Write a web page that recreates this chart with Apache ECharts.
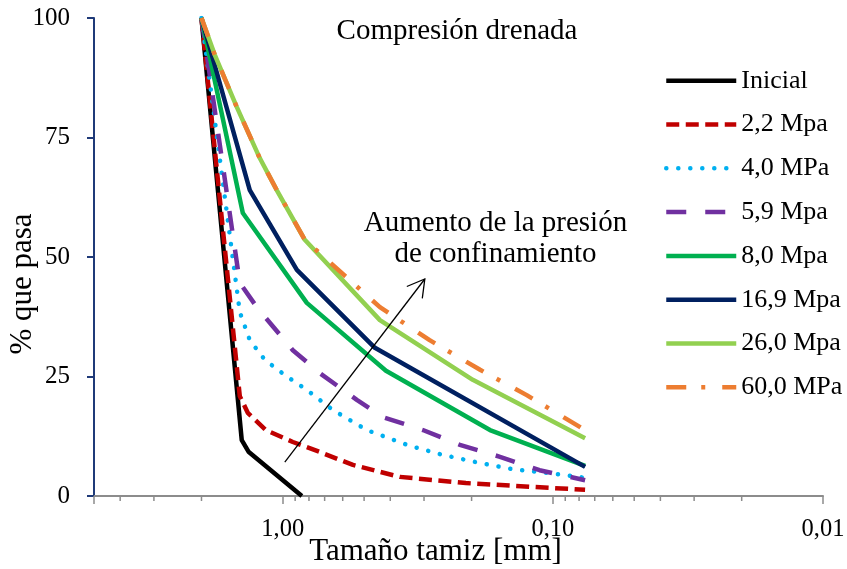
<!DOCTYPE html>
<html><head><meta charset="utf-8">
<script src="https://cdn.jsdelivr.net/npm/echarts@6/dist/echarts.min.js"></script>
<style>html,body{margin:0;padding:0;background:#fff}#c{width:847px;height:569px}</style>
</head><body><div id="c"></div>
<script>
// ---------- DATA ----------
const chartTitle = 'Compresión drenada';
const xAxisName = 'Tamaño tamiz [mm]';
const yAxisName = '% que pasa';
const annotationText = 'Aumento de la presión\nde confinamiento';
const seriesNames = ['Inicial', '2,2 Mpa', '4,0 MPa', '5,9 Mpa', '8,0 Mpa', '16,9 Mpa', '26,0 Mpa', '60,0 MPa'];

// [tamaño tamiz (mm), % que pasa]
const inicial = [[2.0, 100], [1.419, 11.7], [1.336, 9.2], [0.85, 0]];
const mpa2_2 = [[2.0, 100], [1.443, 20.9], [1.348, 17.4], [1.156, 13.8], [0.918, 11.3], [0.729, 9.2], [0.55, 6.5], [0.369, 4.0], [0.21, 2.7], [0.119, 1.9], [0.076, 1.3]];
const mpa4_0 = [[2.0, 100], [1.443, 38.5], [1.325, 32.6], [1.166, 28.5], [0.983, 25.3], [0.815, 22.2], [0.653, 18.0], [0.489, 13.8], [0.339, 10.5], [0.256, 8.6], [0.186, 6.9], [0.141, 5.6], [0.103, 4.8], [0.076, 3.8]];
const mpa5_9 = [[2.0, 100], [1.443, 44.6], [1.248, 39.5], [0.918, 30.5], [0.729, 25.7], [0.532, 20.1], [0.426, 16.5], [0.303, 13.8], [0.221, 10.7], [0.157, 8.2], [0.112, 5.4], [0.076, 3.3]];
const mpa8_0 = [[2.0, 100], [1.406, 59.2], [0.815, 40.4], [0.415, 26.2], [0.171, 13.8], [0.076, 6.3]];
const mpa16_9 = [[2.0, 100], [1.325, 64.0], [0.887, 47.3], [0.456, 31.0], [0.076, 6.1]];
const mpa26_0 = [[2.0, 100], [1.786, 92.3], [1.481, 81.4], [1.217, 70.7], [1.053, 64.0], [0.829, 53.6], [0.437, 36.8], [0.198, 24.3], [0.076, 12.1]];
const mpa60_0 = [[2.0, 100], [1.786, 92.3], [1.481, 81.4], [1.217, 70.7], [1.053, 64.0], [0.829, 53.6], [0.437, 39.5], [0.286, 32.6], [0.186, 26.4], [0.125, 21.1], [0.076, 13.8]];

const xMin = 0.01, xMax = 5;
const xMajorTicks = [1, 0.1, 0.01];
const xMajorLabels = ['1,00', '0,10', '0,01'];
const xMinorTicks = [4, 3, 2, 0.9, 0.8, 0.7, 0.6, 0.5, 0.4, 0.3, 0.2, 0.09, 0.08, 0.07, 0.06, 0.05, 0.04, 0.03, 0.02];
const yMin = 0, yMax = 100, yStep = 25;

const arrowFrom = [0.983, 7.1];
const arrowTo = [0.298, 45.4];

// ---------- STYLE ----------
const FONT = '"Liberation Serif", "Times New Roman", serif';
const styles = [
  { color: '#000000', type: 'solid' },
  { color: '#c00000', type: [13, 6.5] },
  { color: '#00b0f0', type: [0.1, 11.9], cap: 'round' },
  { color: '#7030a0', type: [20, 19] },
  { color: '#00b050', type: 'solid' },
  { color: '#002060', type: 'solid' },
  { color: '#92d050', type: 'solid' },
  { color: '#ed7d31', type: [20, 15, 4, 17] }
];
const dataSets = [inicial, mpa2_2, mpa4_0, mpa5_9, mpa8_0, mpa16_9, mpa26_0, mpa60_0];
const AXIS_BLUE = '#1f3a78';
const AXIS_GRAY = '#8c8c8c';

const chart = echarts.init(document.getElementById('c'), null, { renderer: 'canvas' });

const lineSeries = dataSets.map((d, i) => ({
  name: seriesNames[i],
  type: 'line',
  data: d,
  symbol: 'none',
  showSymbol: false,
  lineStyle: { width: 4.5, color: styles[i].color, type: styles[i].type, cap: styles[i].cap || 'butt', join: 'round' },
  itemStyle: { color: styles[i].color }
}));

const minorTickSeries = {
  type: 'custom',
  name: 'minor',
  data: xMinorTicks.map(v => [v, yMin]),
  clip: false,
  silent: true,
  z: 5,
  renderItem: (params, api) => {
    const p = api.coord([api.value(0), api.value(1)]);
    return { type: 'line', shape: { x1: p[0], y1: p[1], x2: p[0], y2: p[1] + 5 }, style: { stroke: AXIS_GRAY, lineWidth: 1.5 } };
  }
};

function xLabel(v) {
  for (let i = 0; i < xMajorTicks.length; i++) {
    if (Math.abs(Math.log10(v) - Math.log10(xMajorTicks[i])) < 1e-6) return xMajorLabels[i];
  }
  return '';
}

chart.setOption({
  animation: false,
  title: {
    text: chartTitle, left: 457, top: 17, textAlign: 'center', padding: 0,
    textStyle: { fontFamily: FONT, fontSize: 29, fontWeight: 'normal', color: '#000' }
  },
  grid: { left: 94, right: 24, top: 18, bottom: 73, containLabel: false, outerBoundsMode: 'none' },
  legend: {
    data: seriesNames, orient: 'vertical', left: 664, top: 67.7, padding: 0,
    itemWidth: 70, itemHeight: 14, itemGap: 17.8,
    textStyle: { fontFamily: FONT, fontSize: 26, color: '#000', lineHeight: 26 },
    lineStyle: { width: 4.5 },
    itemStyle: { opacity: 0 }
  },
  xAxis: {
    type: 'log', logBase: 10, min: xMin, max: xMax, inverse: true,
    name: xAxisName, nameLocation: 'middle', nameGap: 40.7, nameMoveOverlap: false,
    nameTextStyle: { fontFamily: FONT, fontSize: 31, color: '#000', padding: [0, 46, 0, 0] },
    axisLine: { lineStyle: { color: AXIS_GRAY, width: 2 } },
    axisTick: { length: 8, lineStyle: { color: AXIS_GRAY, width: 1.5 } },
    axisLabel: { margin: 21, fontFamily: FONT, fontSize: 24.5, color: '#000', formatter: xLabel },
    splitLine: { show: false }, minorTick: { show: false }
  },
  yAxis: {
    type: 'value', min: yMin, max: yMax, interval: yStep,
    name: yAxisName, nameLocation: 'middle', nameRotate: 90, nameGap: 55.5, nameMoveOverlap: false,
    nameTextStyle: { fontFamily: FONT, fontSize: 31, color: '#000', padding: [0, 54, 0, 0] },
    axisLine: { show: true, lineStyle: { color: AXIS_BLUE, width: 2 } },
    axisTick: { show: true, length: 7, lineStyle: { color: AXIS_BLUE, width: 2 } },
    axisLabel: { margin: 24, fontFamily: FONT, fontSize: 25, color: '#000' },
    splitLine: { show: false }
  },
  series: lineSeries.concat([minorTickSeries])
});

// Arrow + annotation placed through the chart's own coordinate conversion
const p1 = chart.convertToPixel({ xAxisIndex: 0, yAxisIndex: 0 }, arrowFrom);
const p2 = chart.convertToPixel({ xAxisIndex: 0, yAxisIndex: 0 }, arrowTo);
const back = Math.atan2(p1[1] - p2[1], p1[0] - p2[0]);
const armLen = 19.5, half = 30 * Math.PI / 180;
const a1 = [p2[0] + armLen * Math.cos(back + half), p2[1] + armLen * Math.sin(back + half)];
const a2 = [p2[0] + armLen * Math.cos(back - half), p2[1] + armLen * Math.sin(back - half)];

chart.setOption({
  graphic: [
    { type: 'line', z: 10, shape: { x1: p1[0], y1: p1[1], x2: p2[0], y2: p2[1] }, style: { stroke: '#000', lineWidth: 1.3 } },
    { type: 'polyline', z: 10, shape: { points: [a1, p2, a2] }, style: { stroke: '#000', lineWidth: 1.3, fill: null } },
    { type: 'text', z: 10, x: 495.5, y: 207.7,
      style: { text: annotationText, fontFamily: FONT, fontSize: 29, lineHeight: 31, fill: '#000', align: 'center', verticalAlign: 'top' } }
  ]
});
</script>
</body></html>
